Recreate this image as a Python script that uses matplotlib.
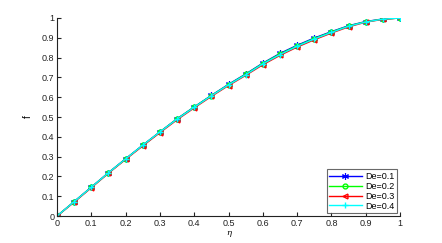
import matplotlib
matplotlib.use("Agg")
import matplotlib.pyplot as plt
import numpy as np

plt.rcParams["font.family"] = ["Liberation Sans", "DejaVu Sans"]

eta = [0, 0.05, 0.1, 0.15, 0.2, 0.25, 0.3, 0.35, 0.4, 0.45, 0.5,
       0.55, 0.6, 0.65, 0.7, 0.75, 0.8, 0.85, 0.9, 0.95, 1.0]
f_de01 = [0, 0.073, 0.146, 0.219, 0.289, 0.358, 0.425, 0.491, 0.551, 0.609, 0.665,
          0.717, 0.772, 0.821, 0.862, 0.899, 0.931, 0.961, 0.982, 0.995, 1.0]
f_de02 = [0, 0.072, 0.145, 0.218, 0.288, 0.357, 0.424, 0.490, 0.550, 0.608, 0.663,
          0.715, 0.770, 0.818, 0.859, 0.896, 0.929, 0.959, 0.981, 0.994, 1.0]
f_de03 = [0, 0.070, 0.143, 0.216, 0.286, 0.354, 0.421, 0.486, 0.546, 0.604, 0.659,
          0.710, 0.764, 0.811, 0.853, 0.890, 0.924, 0.955, 0.979, 0.993, 1.0]
f_de04 = [0, 0.072, 0.145, 0.218, 0.288, 0.357, 0.424, 0.489, 0.549, 0.607, 0.662,
          0.713, 0.768, 0.815, 0.857, 0.894, 0.927, 0.958, 0.980, 0.994, 1.0]
labels = ["De=0.1", "De=0.2", "De=0.3", "De=0.4"]
xticks = [0, 0.1, 0.2, 0.3, 0.4, 0.5, 0.6, 0.7, 0.8, 0.9, 1]
yticks = [0, 0.1, 0.2, 0.3, 0.4, 0.5, 0.6, 0.7, 0.8, 0.9, 1]

fig = plt.figure(figsize=(4.42, 2.43), dpi=100)
ax = fig.add_axes([0.129, 0.111, 0.776, 0.815])

ax.plot(eta, f_de01, color="#0000ff", marker=(6, 2, 0), ms=5, mew=0.8, lw=1.0, label=labels[0])
ax.plot(eta, f_de02, color="#00ff00", marker="o", ms=3.5, mfc="none", lw=1.0, label=labels[1])
ax.plot(eta, f_de03, color="#ff0000", marker="<", ms=3.5, mfc="none", lw=1.0, label=labels[2])
ax.plot(eta, f_de04, color="#00ffff", marker="+", ms=4.5, lw=1.0, label=labels[3])

ax.set_xlim(0, 1)
ax.set_ylim(0, 1)
ax.set_xticks(xticks)
ax.set_yticks(yticks)
ax.set_xticklabels([f"{v:g}" for v in xticks])
ax.set_yticklabels([f"{v:g}" for v in yticks])
ax.tick_params(direction="in", length=3, width=0.8, labelsize=6.5, pad=2, colors="#222222")
ax.spines["top"].set_visible(False)
ax.spines["right"].set_visible(False)
for s in ("left", "bottom"):
    ax.spines[s].set_color("#222222")
    ax.spines[s].set_linewidth(0.8)

ax.set_xlabel("η", fontsize=6, style="italic", labelpad=1, family="DejaVu Serif")
ax.set_ylabel("f", fontsize=7, labelpad=6)

leg = ax.legend(loc="lower right", fontsize=6.5, frameon=True, fancybox=False,
                edgecolor="#444444", handlelength=3.6, borderpad=0.3, numpoints=1,
                labelspacing=0.1, handletextpad=0.4, borderaxespad=0.3)
leg.get_frame().set_linewidth(0.8)

fig.savefig("out.png", dpi=100)
